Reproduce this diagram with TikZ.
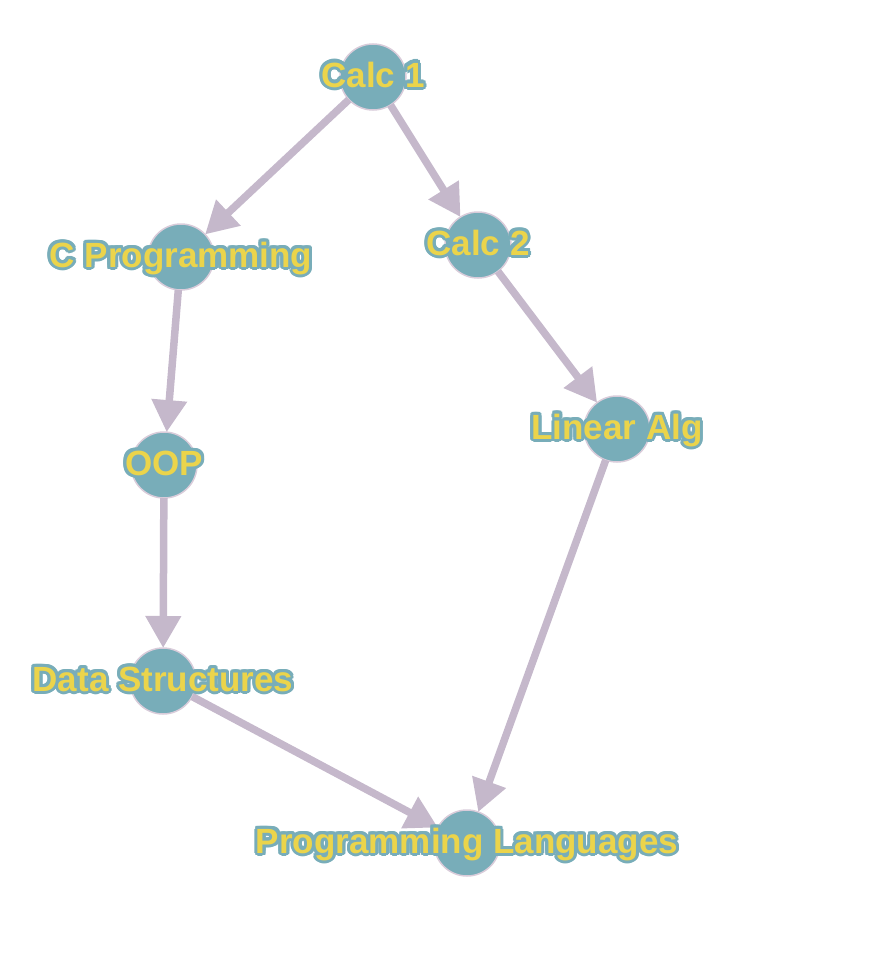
\documentclass[tikz,border=0pt]{standalone}
\usepackage{fontspec}
\setmainfont{Liberation Sans}
\usepackage[copies]{contour}
\usetikzlibrary{arrows.meta}
\definecolor{crsteal}{HTML}{78ADB9}
\definecolor{crsgold}{HTML}{EBD44B}
\definecolor{crsmauve}{HTML}{C5B8CB}
\definecolor{crsrim}{HTML}{D9CCDA}
\contourlength{3pt}
\contournumber{16}

\begin{document}
\begin{tikzpicture}[
  x=1pt, y=-1pt,
  course/.style={circle, draw=crsrim, line width=1.5pt, fill=crsteal, minimum size=66pt, inner sep=0pt, outer sep=0pt},
  tag/.style={anchor=base, yshift=-10pt, inner sep=0pt, font=\fontsize{35}{35}\selectfont\bfseries, text=crsgold},
  line/.style={-{Triangle[length=32pt, width=34pt]}, line width=7.5pt, crsmauve}
]
\useasboundingbox (0,0) rectangle (876,958);

\node[course] (calc1) at (373,77) {};
\node[course] (cprog) at (181,257) {};
\node[course] (calc2) at (478,245) {};
\node[course] (linalg) at (617,429) {};
\node[course] (oop) at (164,465) {};
\node[course] (datastr) at (163,681) {};
\node[course] (proglang) at (467,843) {};

\draw[line] (calc1) -- (cprog);
\draw[line] (calc1) -- (calc2);
\draw[line] (cprog) -- (oop);
\draw[line] (calc2) -- (linalg);
\draw[line] (oop) -- (datastr);
\draw[line] (datastr) -- (proglang);
\draw[line] (linalg) -- (proglang);

\node[tag] (calc1-tag) at (calc1) {\contour{crsteal}{Calc 1}};
\node[tag] (cprog-tag) at (cprog) {\contour{crsteal}{C Programming}};
\node[tag] (calc2-tag) at (calc2) {\contour{crsteal}{Calc 2}};
\node[tag] (linalg-tag) at (linalg) {\contour{crsteal}{Linear Alg}};
\node[tag] (oop-tag) at (oop) {\contour{crsteal}{OOP}};
\node[tag] (datastr-tag) at (datastr) {\contour{crsteal}{Data Structures}};
\node[tag] (proglang-tag) at (proglang) {\contour{crsteal}{Programming Languages}};
\end{tikzpicture}
\end{document}
